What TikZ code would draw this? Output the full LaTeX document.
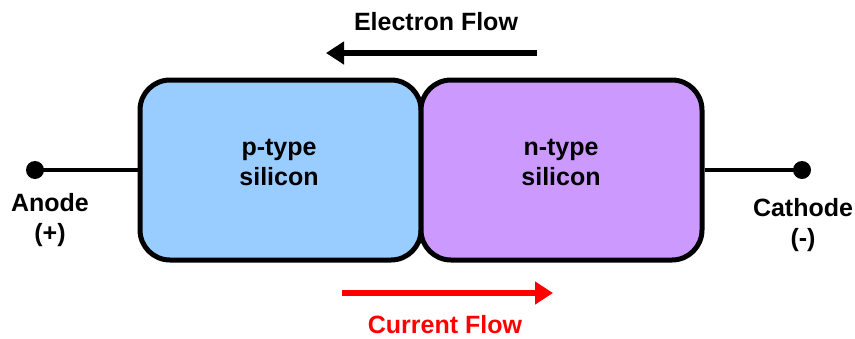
\documentclass[tikz,border=0pt]{standalone}
\usepackage{fontspec}
\setmainfont{Liberation Sans}
\usetikzlibrary{arrows.meta}
\definecolor{pblue}{HTML}{99CCFF}
\definecolor{npurple}{HTML}{CC99FF}
\begin{document}
\begin{tikzpicture}[x=1pt,y=-1pt,
  region/.style={draw=black, line width=5pt, rounded corners=30pt, minimum width=281pt, minimum height=180pt, inner sep=0pt},
  lbl/.style={align=center, font=\fontsize{25}{30}\selectfont\bfseries, inner sep=0pt},
  terminal/.style={circle, fill=black, minimum size=18pt, inner sep=0pt},
  wire/.style={line width=4pt},
  flow/.style={line width=6pt, -{Triangle[length=18pt,width=22pt]}}]
\useasboundingbox (0,0) rectangle (855,338);
\node[region, fill=pblue] (p) at (280.5,170) {};
\node[region, fill=npurple] (n) at (561.5,170) {};
\node[lbl] (pt) at (279,162) {p-type\\silicon};
\node[lbl] (nt) at (561,162) {n-type\\silicon};
\node[terminal] (a) at (35,170) {};
\node[terminal] (c) at (802,170) {};
\draw[wire] (a.center) -- (p.west);
\draw[wire] (n.east) -- (c.center);
\node[lbl] (an) at (50,220) {Anode\\(+)};
\node[lbl] (ca) at (803,225) {Cathode\\(-)};
\coordinate (e1) at (537,53);
\coordinate (e2) at (326,53);
\draw[flow] (e1) -- (e2);
\node[lbl] (et) at (436,22) {Electron Flow};
\coordinate (c1) at (342,293);
\coordinate (c2) at (553,293);
\draw[flow, red] (c1) -- (c2);
\node[lbl, text=red] (ct) at (445,325) {Current Flow};
\end{tikzpicture}
\end{document}
